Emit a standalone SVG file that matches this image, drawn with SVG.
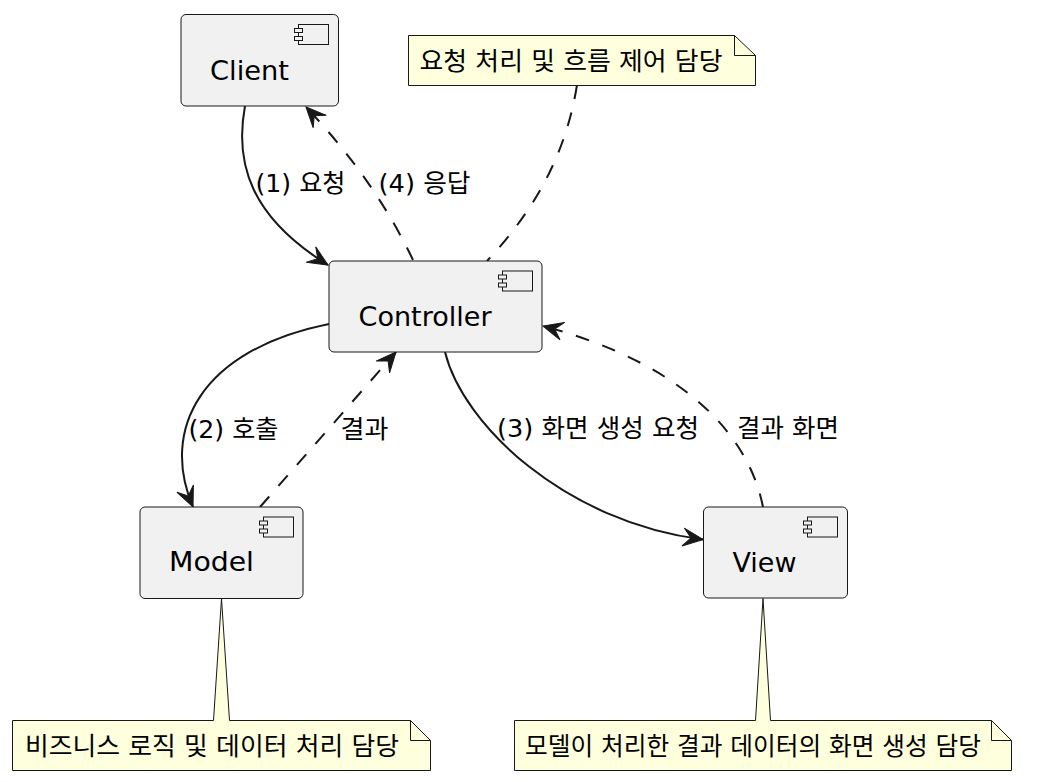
<svg xmlns="http://www.w3.org/2000/svg" width="1048" height="782" viewBox="0 0 1048 782">
<style>
.box{fill:#F1F1F1;stroke:#181818;stroke-width:1}
.icon{fill:#F1F1F1;stroke:#181818;stroke-width:1}
.note{fill:#FEFFDD;stroke:#181818;stroke-width:1}
.fold{fill:none;stroke:#181818;stroke-width:1}
.ctext{font-family:"DejaVu Sans","Noto Sans CJK KR",sans-serif;font-size:27px;fill:#000}
.ltext{font-family:"DejaVu Sans","Noto Sans CJK KR",sans-serif;font-size:25px;fill:#000}
.solid{fill:none;stroke:#181818;stroke-width:2}
.dash{fill:none;stroke:#181818;stroke-width:2;stroke-dasharray:14,14}
.head{fill:#181818;stroke:#181818;stroke-width:1;stroke-dasharray:none}
</style>
<defs>
<marker id="arr" markerUnits="userSpaceOnUse" viewBox="-24 -12 26 24" refX="0" refY="0" markerWidth="26" markerHeight="24" orient="auto" overflow="visible">
<path class="head" d="M0,0 L-20,-9 L-12,0 L-20,9 Z"/>
</marker>
</defs>
<rect width="1048" height="782" fill="#FFFFFF"/>

<g id="connectors">
<path id="c1" class="solid" d="M245,106 C234,165 252,218 328,265" marker-end="url(#arr)"/>
<path id="c4" class="dash" d="M413,260 Q375,180 306,107" marker-end="url(#arr)"/>
<path id="c2" class="solid" d="M329,324 C200,350 160,430 193,507" marker-end="url(#arr)"/>
<path id="c5" class="dash" d="M260,507 L396,352" marker-end="url(#arr)"/>
<path id="c3" class="solid" d="M445,352 C463,425 565,522 703,539.5" marker-end="url(#arr)"/>
<path id="c6" class="dash" d="M763,507 C750,440 690,365 543,326" marker-end="url(#arr)"/>
<path id="c7" class="dash" d="M577,85 C565,160 530,215 487,261"/>
</g>

<g id="labels">
<text class="ltext" x="255.5" y="191.5" textLength="90" lengthAdjust="spacingAndGlyphs">(1) 요청</text>
<text class="ltext" x="378.5" y="191.5" textLength="92" lengthAdjust="spacingAndGlyphs">(4) 응답</text>
<text class="ltext" x="188.5" y="438" textLength="90" lengthAdjust="spacingAndGlyphs">(2) 호출</text>
<text class="ltext" x="340.5" y="438" textLength="48" lengthAdjust="spacingAndGlyphs">결과</text>
<text class="ltext" x="497" y="437" textLength="202" lengthAdjust="spacingAndGlyphs">(3) 화면 생성 요청</text>
<text class="ltext" x="737" y="437" textLength="102" lengthAdjust="spacingAndGlyphs">결과 화면</text>
</g>

<g id="Client">
<rect class="box" x="181" y="14.5" width="157.5" height="91.5" rx="5" ry="5"/>
<rect class="icon" x="298.5" y="24.5" width="30" height="20"/>
<rect class="icon" x="294.5" y="28.5" width="8" height="4"/>
<rect class="icon" x="294.5" y="36.5" width="8" height="4"/>
<text class="ctext" x="210" y="80" textLength="79" lengthAdjust="spacingAndGlyphs">Client</text>
</g>

<g id="Controller">
<rect class="box" x="329" y="261" width="213" height="91" rx="5" ry="5"/>
<rect class="icon" x="502.5" y="271" width="30" height="20"/>
<rect class="icon" x="498.5" y="275" width="8" height="4"/>
<rect class="icon" x="498.5" y="283" width="8" height="4"/>
<text class="ctext" x="358.5" y="326" textLength="133" lengthAdjust="spacingAndGlyphs">Controller</text>
</g>

<g id="Model">
<rect class="box" x="140" y="507" width="163" height="91.5" rx="5" ry="5"/>
<rect class="icon" x="263.5" y="517" width="30" height="20"/>
<rect class="icon" x="259.5" y="521" width="8" height="4"/>
<rect class="icon" x="259.5" y="529" width="8" height="4"/>
<text class="ctext" x="169" y="571" textLength="85" lengthAdjust="spacingAndGlyphs">Model</text>
</g>

<g id="View">
<rect class="box" x="703.5" y="507" width="144" height="91" rx="5" ry="5"/>
<rect class="icon" x="807.5" y="517" width="30" height="20"/>
<rect class="icon" x="803.5" y="521" width="8" height="4"/>
<rect class="icon" x="803.5" y="529" width="8" height="4"/>
<text class="ctext" x="732.5" y="572" textLength="64" lengthAdjust="spacingAndGlyphs">View</text>
</g>

<g id="note-controller">
<path class="note" d="M408.5,35.5 L734.5,35.5 L755.5,55.5 L755.5,85.5 L408.5,85.5 Z"/>
<path class="fold" d="M734.5,35.5 L734.5,55.5 L755.5,55.5"/>
<text class="ltext" x="419.5" y="70" textLength="303" lengthAdjust="spacingAndGlyphs">요청 처리 및 흐름 제어 담당</text>
</g>

<g id="note-model">
<path class="note" d="M12.5,720.5 L213.5,720.5 L221.5,598.5 L229.5,720.5 L410.5,720.5 L430.5,740.5 L430.5,770.5 L12.5,770.5 Z"/>
<path class="fold" d="M410.5,720.5 L410.5,740.5 L430.5,740.5"/>
<text class="ltext" x="25" y="755" textLength="374" lengthAdjust="spacingAndGlyphs">비즈니스 로직 및 데이터 처리 담당</text>
</g>

<g id="note-view">
<path class="note" d="M514.5,720.5 L755.5,720.5 L763,598.5 L770.5,720.5 L991.5,720.5 L1011.5,740.5 L1011.5,770.5 L514.5,770.5 Z"/>
<path class="fold" d="M991.5,720.5 L991.5,740.5 L1011.5,740.5"/>
<text class="ltext" x="525" y="755" textLength="456" lengthAdjust="spacingAndGlyphs">모델이 처리한 결과 데이터의 화면 생성 담당</text>
</g>
</svg>
